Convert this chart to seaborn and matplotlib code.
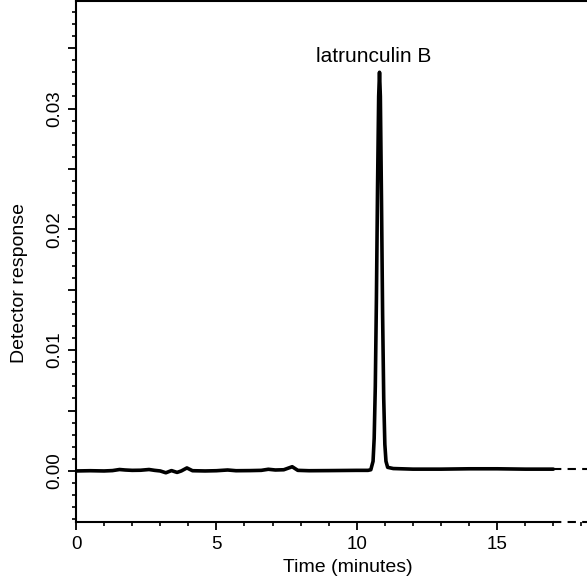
import numpy as np
import pandas as pd
import matplotlib
matplotlib.use("Agg")
import matplotlib.pyplot as plt
import seaborn as sns
from matplotlib.ticker import FixedLocator, MultipleLocator, FuncFormatter

# chromatogram (time in minutes, detector response)
time_min = [0.0, 0.5, 1.0, 1.3, 1.55, 1.75, 2.0, 2.3, 2.6, 2.8, 3.0, 3.2, 3.4,
            3.6, 3.75, 3.95, 4.15, 4.6, 5.0, 5.4, 5.7, 6.2, 6.6, 6.85, 7.1,
            7.4, 7.7, 7.9, 8.3, 9.0, 10.0, 10.4, 10.5, 10.58, 10.62, 10.66,
            10.70, 10.74, 10.78, 10.81, 10.84, 10.88, 10.92, 10.96, 11.0,
            11.04, 11.1, 11.3, 12.0, 13.0, 14.0, 15.0, 16.0, 17.0]
response = [0.0, 0.00002, 0.0, 0.00003, 0.00012, 0.00008, 0.00005, 0.00006,
            0.00012, 0.00005, 0.0, -0.00015, 0.00003, -0.00012, 0.0, 0.00025,
            0.00002, 0.0, 0.00002, 0.00008, 0.00002, 0.00003, 0.00005,
            0.00014, 0.00008, 0.0001, 0.00035, 0.00005, 0.00002, 0.00003,
            0.00005, 0.00005, 0.0001, 0.0008, 0.0027, 0.0070, 0.0143, 0.0235,
            0.0310, 0.0330, 0.0310, 0.0225, 0.0130, 0.0060, 0.0022, 0.0008,
            0.0003, 0.0002, 0.00015, 0.00015, 0.00018, 0.00018, 0.00015,
            0.00015]

peak_name = "latrunculin B"
xtick_vals = [0, 5, 10, 15]
ytick_vals = [0.00, 0.01, 0.02, 0.03]

df = pd.DataFrame({"Time": time_min, "Response": response})

sns.set_style("ticks")
plt.rcParams["font.family"] = ["Liberation Sans", "DejaVu Sans"]
plt.rcParams["font.size"] = 13
plt.rcParams["text.color"] = "black"
plt.rcParams["axes.labelcolor"] = "black"

fig = plt.figure(figsize=(5.87, 5.77), dpi=100)
ax = fig.add_axes([76 / 587, 55.3 / 577, 511 / 587, 520.7 / 577])

sns.lineplot(data=df, x="Time", y="Response", color="black", linewidth=2.6,
             ax=ax, estimator=None, sort=False)

x_max = 18.2
y_min, y_max = -0.0042, 0.0389
ax.set_xlim(0, x_max)
ax.set_ylim(y_min, y_max)

# dashed continuation at the right edge (baseline and x axis)
ax.plot([time_min[-1], x_max], [response[-1], response[-1]], color="black",
        lw=1.5, ls=(0, (4, 3)), clip_on=False)
ax.plot([17.0, x_max], [y_min, y_min], color="black",
        lw=1.5, ls=(0, (4, 3)), clip_on=False)

ax.spines["right"].set_visible(False)
ax.spines["bottom"].set_bounds(0, 17.0)
for s in ["left", "bottom", "top"]:
    ax.spines[s].set_linewidth(1.5)
    ax.spines[s].set_color("black")

ax.xaxis.set_major_locator(FixedLocator(xtick_vals))
ax.xaxis.set_minor_locator(MultipleLocator(1))
ax.yaxis.set_major_locator(MultipleLocator(0.005))
ax.yaxis.set_minor_locator(MultipleLocator(0.001))

def ylab(v, pos):
    for t in ytick_vals:
        if abs(v - t) < 1e-6:
            return f"{t:.2f}"
    return ""

ax.yaxis.set_major_formatter(FuncFormatter(ylab))
ax.tick_params(axis="both", which="major", length=5.5, width=1.3,
               direction="out", colors="black", labelsize=13.5, pad=5)
ax.tick_params(axis="y", which="major", pad=3.5)
ax.tick_params(axis="both", which="minor", length=3, width=1.2,
               direction="out", colors="black")
ax.tick_params(top=False, right=False, which="both")
for lab in ax.get_yticklabels():
    lab.set_rotation(90)
    lab.set_va("center")

ax.set_xlabel("Time (minutes)", fontsize=14, color="black")
ax.set_ylabel("Detector response", fontsize=14, color="black")
ax.xaxis.set_label_coords(0.532, -0.071)
ax.yaxis.set_label_coords(-0.094, 0.458)

ax.text(10.62, 0.0343, peak_name, ha="center", va="center", fontsize=15,
        color="black")

fig.savefig("out.png", dpi=100)
